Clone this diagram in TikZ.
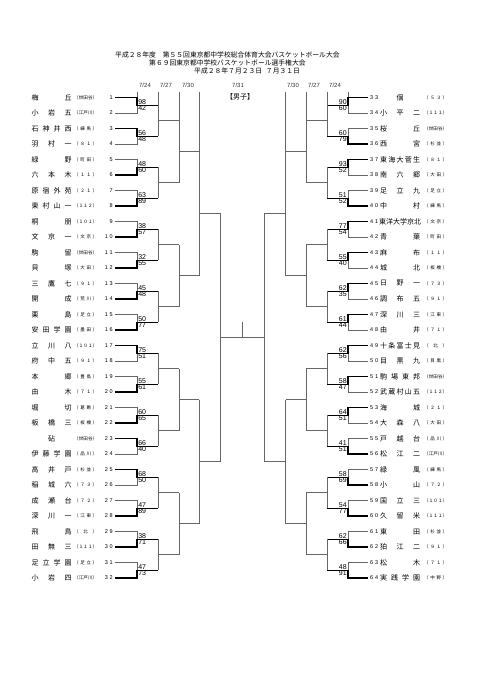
\documentclass[tikz,border=0pt]{standalone}
\usepackage{fontspec}
\setmainfont{Noto Sans CJK JP}
\newfontfamily\latf{Liberation Sans}
\ExplSyntaxOn
\cs_new_protected:Npn \rs_spread:nn #1#2
  {
    \makebox[#1]
      {
        \bool_set_true:N \l_tmpa_bool
        \tl_map_inline:nn {#2}
          {
            \bool_if:NTF \l_tmpa_bool
              { \bool_set_false:N \l_tmpa_bool }
              { \hskip 0pt plus 1filll\relax }
            ##1
          }
      }
  }
\cs_generate_variant:Nn \rs_spread:nn { no }
\NewDocumentCommand \spread { m m } { \rs_spread:no {#1} {#2} }
\ExplSyntaxOff
\tikzset{
  thinl/.style={draw=black!60, line width=0.6pt},
  thickl/.style={draw=black, line width=1.3pt, line join=miter},
  namest/.style={inner sep=0pt, font=\fontsize{7}{8}\selectfont},
  distst/.style={inner sep=0pt, font=\fontsize{4.5}{5}\selectfont},
  numst/.style={inner sep=0pt, font=\latf\fontsize{5.5}{6}\selectfont},
  scorest/.style={inner sep=0.6pt, font=\latf\fontsize{7}{7}\selectfont},
  datest/.style={inner sep=0pt, font=\latf\fontsize{6}{7}\selectfont, text=black!80},
  titlest/.style={inner sep=0pt, font=\fontsize{6.8}{8}\selectfont}
}
\begin{document}
\begin{tikzpicture}[x=1pt, y=-1pt]
\useasboundingbox[fill=white] (0,0) rectangle (481,680);
% titles
\node[titlest, anchor=west] (t1) at (115,55) {平成２８年度　第５５回東京都中学校総合体育大会バスケットボール大会};
\node[titlest, anchor=west] (t2) at (149,63) {第６９回東京都中学校バスケットボール選手権大会};
\node[titlest, anchor=west] (t3) at (194,71) {平成２８年７月２３日\,~\,７月３１日};
\node[datest] (d1) at (145,85) {7/24};
\node[datest] (d2) at (166,85) {7/27};
\node[datest] (d3) at (188,85) {7/30};
\node[datest] (d4) at (238,85) {7/31};
\node[datest] (d5) at (293,85) {7/30};
\node[datest] (d6) at (314,85) {7/27};
\node[datest] (d7) at (335,85) {7/24};
\node[titlest, font=\fontsize{7}{8}\selectfont] (boys) at (240,97) {【男子】};
% header extensions
\draw[thinl] (137,92) -- (137,97.5);
\draw[thinl] (158,92) -- (158,105.25);
\draw[thinl] (179,92) -- (179,120.75);
\draw[thinl] (199,92) -- (199,151.75);
\draw[thinl] (348,92) -- (348,97.5);
\draw[thinl] (327,92) -- (327,105.25);
\draw[thinl] (306,92) -- (306,120.75);
\draw[thinl] (285.5,92) -- (285.5,151.75);
% left teams
\foreach \i/\nm/\ds in {1/梅丘/（世田谷）,2/小岩五/（江戸川）,3/石神井西/（練馬）,4/羽村一/（８１）,5/緑野/（町田）,6/六本木/（１１）,7/原宿外苑/（２１）,8/東村山一/（１１２）,9/桐朋/（１０１）,10/文京一/（文京）,11/駒留/（世田谷）,12/貝塚/（大田）,13/三鷹七/（９１）,14/開成/（荒川）,15/栗島/（足立）,16/安田学園/（墨田）,17/立川八/（１０１）,18/府中五/（９１）,19/本郷/（豊島）,20/由木/（７１）,21/堀切/（葛飾）,22/板橋三/（板橋）,23/砧/（世田谷）,24/伊藤学園/（品川）,25/高井戸/（杉並）,26/稲城六/（７３）,27/成瀬台/（７２）,28/深川一/（江東）,29/飛鳥/（北）,30/田無三/（１１１）,31/足立学園/（足立）,32/小岩四/（江戸川）}{
  \pgfmathsetmacro\yy{97.5+(\i-1)*15.5}
  \node[namest, anchor=west] (Ln\i) at (31.5,\yy) {\spread{40pt}{\nm}};
  \node[distst, anchor=west] (Ld\i) at (74,\yy) {\spread{23pt}{\ds}};
  \node[numst, anchor=east] (Lk\i) at (113,\yy) {\ifnum\i<10 \makebox[8pt][r]{\i}\else\spread{8pt}{\i}\fi};
}
% right teams
\foreach \i/\nm/\ds in {33/個/（５３）,34/小平二/（１１１）,35/桜丘/（世田谷）,36/西宮/（杉並）,37/東海大菅生/（８１）,38/南六郷/（大田）,39/足立九/（足立）,40/中村/（練馬）,41/東洋大学京北/（文京）,42/青葉/（町田）,43/麻布/（１１）,44/城北/（板橋）,45/日野一/（７３）,46/調布五/（９１）,47/深川三/（江東）,48/由井/（７１）,49/十条富士見/（北）,50/目黒九/（目黒）,51/駒場東邦/（世田谷）,52/武蔵村山五/（１１２）,53/海城/（２１）,54/大森八/（大田）,55/戸越台/（品川）,56/松江二/（江戸川）,57/緑風/（練馬）,58/小山/（７２）,59/国立三/（１０１）,60/久留米/（１１１）,61/東田/（杉並）,62/狛江二/（９１）,63/松木/（７１）,64/実践学園/（中野）}{
  \pgfmathsetmacro\yy{97.5+(\i-33)*15.5}
  \node[numst, anchor=west] (Rk\i) at (370,\yy) {\spread{8pt}{\i}};
  \node[namest, anchor=west] (Rn\i) at (380,\yy) {\spread{40pt}{\nm}};
  \node[distst, anchor=west] (Rd\i) at (424,\yy) {\spread{23pt}{\ds}};
}
% left first round
\foreach \k/\a/\b in {1/98/42,2/56/48,3/48/60,4/63/89,5/38/57,6/32/55,7/45/48,8/50/77,9/75/51,10/55/61,11/60/65,12/66/40,13/68/50,14/47/89,15/38/71,16/47/73}{
  \pgfmathsetmacro\ya{97.5+(2*\k-2)*15.5}
  \pgfmathsetmacro\yb{\ya+15.5}
  \pgfmathsetmacro\yc{\ya+7.75}
  \draw[thinl] (115,\ya) -- (137,\ya) -- (137,\yb) -- (115,\yb);
  \ifnum\a>\b
    \draw[thickl] (115,\ya) -- (137,\ya) -- (137,\yc) -- (158,\yc);
  \else
    \draw[thickl] (115,\yb) -- (137,\yb) -- (137,\yc) -- (158,\yc);
  \fi
  \node[scorest, anchor=south west] (Lsa\k) at (137.5,\yc) {\a};
  \node[scorest, anchor=north west] (Lsb\k) at (137.5,\yc) {\b};
}
% right first round
\foreach \k/\a/\b in {1/90/60,2/60/79,3/93/52,4/51/52,5/77/54,6/55/40,7/62/35,8/61/44,9/62/56,10/58/47,11/64/51,12/41/51,13/58/69,14/54/77,15/62/66,16/48/91}{
  \pgfmathsetmacro\ya{97.5+(2*\k-2)*15.5}
  \pgfmathsetmacro\yb{\ya+15.5}
  \pgfmathsetmacro\yc{\ya+7.75}
  \draw[thinl] (368,\ya) -- (348,\ya) -- (348,\yb) -- (368,\yb);
  \ifnum\a>\b
    \draw[thickl] (368,\ya) -- (348,\ya) -- (348,\yc) -- (327,\yc);
  \else
    \draw[thickl] (368,\yb) -- (348,\yb) -- (348,\yc) -- (327,\yc);
  \fi
  \node[scorest, anchor=south east] (Rsa\k) at (347.5,\yc) {\a};
  \node[scorest, anchor=north east] (Rsb\k) at (347.5,\yc) {\b};
}
% later rounds
\foreach \m in {1,...,8}{
  \pgfmathsetmacro\ya{74.25+31*(2*\m-1)}
  \pgfmathsetmacro\yb{\ya+31}
  \pgfmathsetmacro\yc{\ya+15.5}
  \draw[thinl] (158,\ya) -- (158,\yb) (158,\yc) -- (179,\yc);
  \draw[thinl] (327,\ya) -- (327,\yb) (327,\yc) -- (306,\yc);
}
\foreach \m in {1,...,4}{
  \pgfmathsetmacro\ya{58.75+62*(2*\m-1)}
  \pgfmathsetmacro\yb{\ya+62}
  \pgfmathsetmacro\yc{\ya+31}
  \draw[thinl] (179,\ya) -- (179,\yb) (179,\yc) -- (199,\yc);
  \draw[thinl] (306,\ya) -- (306,\yb) (306,\yc) -- (285.5,\yc);
}
\foreach \m in {1,2}{
  \pgfmathsetmacro\ya{27.75+124*(2*\m-1)}
  \pgfmathsetmacro\yb{\ya+124}
  \pgfmathsetmacro\yc{\ya+62}
  \draw[thinl] (199,\ya) -- (199,\yb) (199,\yc) -- (220.5,\yc);
  \draw[thinl] (285.5,\ya) -- (285.5,\yb) (285.5,\yc) -- (264,\yc);
}
\draw[thinl] (220.5,213.75) -- (220.5,461.75) (220.5,337.75) -- (264,337.75);
\draw[thinl] (264,213.75) -- (264,461.75);
\coordinate (champ) at (242.3,322.3);
\draw[thinl] (242.3,337.75) -- (champ);
\end{tikzpicture}
\end{document}
